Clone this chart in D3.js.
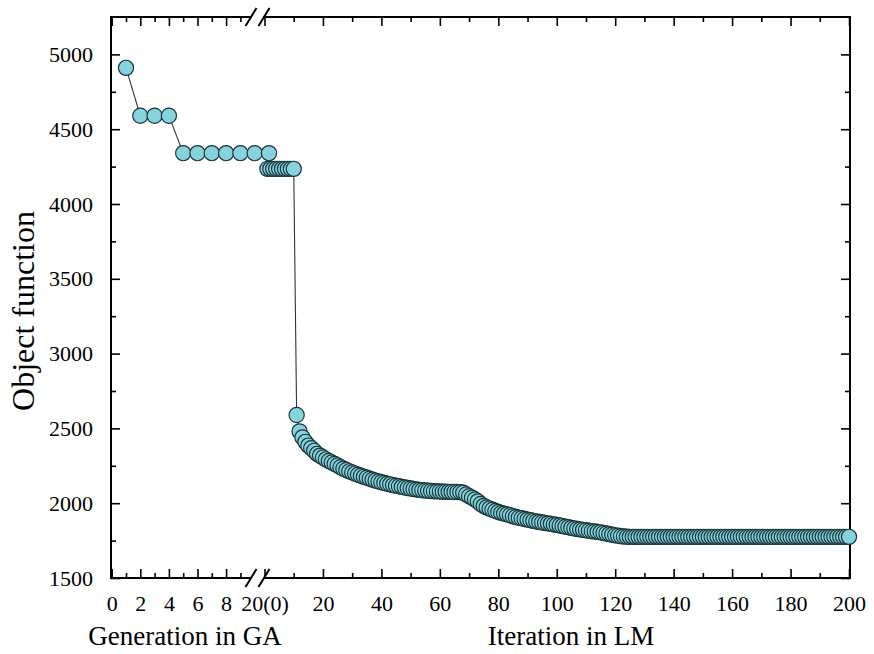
<!DOCTYPE html>
<html>
<head>
<meta charset="utf-8">
<script src="https://cdn.jsdelivr.net/npm/d3@7"></script>
<style>
  html, body { margin: 0; padding: 0; background: #fff; }
  svg { display: block; font-family: "Liberation Serif", "Times New Roman", serif; }
</style>
</head>
<body>
<svg id="chart" width="874" height="654"></svg>
<script>
// GA stage: best objective per generation
const gaGenerations = [1, 2, 3, 4, 5, 6, 7, 8, 9, 10, 11];
const gaValues = [4910, 4590, 4590, 4590, 4340, 4340, 4340, 4340, 4340, 4340, 4340];

// LM stage: objective per iteration (starting from the GA optimum)
const lmIterations = d3.range(1, 201);
const lmValues = [
  4235, 4235, 4235, 4235, 4235, 4235, 4235, 4235, 4235, 4235,
  2590, 2480, 2440, 2410, 2385, 2368, 2350, 2330, 2318, 2305,
  2293, 2282, 2272, 2262, 2252, 2240, 2230, 2222, 2213, 2205,
  2198, 2190, 2183, 2176, 2170, 2163, 2157, 2151, 2145, 2140,
  2135, 2130, 2126, 2121, 2117, 2113, 2109, 2105, 2102, 2098,
  2095, 2092, 2089, 2087, 2085, 2083, 2082, 2080, 2079, 2078,
  2077, 2077, 2076, 2076, 2075, 2075, 2074, 2070, 2058, 2046,
  2036, 2025, 2012, 1995, 1982, 1972, 1964, 1956, 1948, 1941,
  1935, 1930, 1925, 1919, 1913, 1908, 1903, 1899, 1894, 1890,
  1886, 1882, 1878, 1875, 1871, 1868, 1865, 1862, 1858, 1855,
  1851, 1847, 1843, 1839, 1835, 1831, 1828, 1825, 1822, 1819,
  1816, 1813, 1811, 1808, 1805, 1801, 1797, 1793, 1789, 1785,
  1782, 1779, 1777, 1776, 1775, 1775, 1775, 1775, 1775, 1775,
  1775, 1775, 1775, 1775, 1775, 1775, 1775, 1775, 1775, 1775,
  1775, 1775, 1775, 1775, 1775, 1775, 1775, 1775, 1775, 1775,
  1775, 1775, 1775, 1775, 1775, 1775, 1775, 1775, 1775, 1775,
  1775, 1775, 1775, 1775, 1775, 1775, 1775, 1775, 1775, 1775,
  1775, 1775, 1775, 1775, 1775, 1775, 1775, 1775, 1775, 1775,
  1775, 1775, 1775, 1775, 1775, 1775, 1775, 1775, 1775, 1775,
  1775, 1775, 1775, 1775, 1775, 1775, 1775, 1775, 1775, 1775
];

// Tick values
const yTicksMajor = [1500, 2000, 2500, 3000, 3500, 4000, 4500, 5000];
const yTicksMinor = [1750, 2250, 2750, 3250, 3750, 4250, 4750];
const gaTicksMajor = [0, 2, 4, 6, 8];
const gaTicksMinor = [1, 3, 5, 7, 9];
const lmTicksMajor = [0, 20, 40, 60, 80, 100, 120, 140, 160, 180, 200];
const lmTicksMinor = [10, 30, 50, 70, 90, 110, 130, 150, 170, 190];
const lmStartLabel = "20(0)";

const yTitle = "Object function";
const gaTitle = "Generation in GA";
const lmTitle = "Iteration in LM";

// Layout
const plotLeft = 111, plotRight = 850, plotTop = 17, plotBottom = 578;
const breakA = 251, breakB = 264;
const markerFill = "#86d3dd", markerStroke = "#18363a";

const svg = d3.select("#chart");

const y = d3.scaleLinear().domain([1500, 5250]).range([plotBottom, plotTop]);
const xGA = d3.scaleLinear().domain([0, 10]).range([plotLeft + 0.7, 254.7]);
const xLM = d3.scaleLinear().domain([0, 200]).range([264.5, 849]);

const tickFont = 22;
const axisStroke = "#000";

function styleAxis(g, fontSize) {
  g.select(".domain").remove();
  g.selectAll(".tick line").attr("stroke", axisStroke).attr("stroke-width", 1.6);
  g.selectAll(".tick text").attr("fill", "#000").attr("font-size", fontSize)
    .attr("font-family", "Liberation Serif, Times New Roman, serif");
}

// Left axis (labels) and right axis (mirror)
svg.append("g").attr("transform", `translate(${plotLeft},0)`)
  .call(d3.axisLeft(y).tickValues(yTicksMajor).tickSize(-9).tickPadding(18).tickFormat(d3.format("d")))
  .call(g => styleAxis(g, tickFont));
svg.append("g").attr("transform", `translate(${plotLeft},0)`)
  .call(d3.axisLeft(y).tickValues(yTicksMinor).tickSize(-5).tickFormat(""))
  .call(g => styleAxis(g, tickFont));
svg.append("g").attr("transform", `translate(${plotRight},0)`)
  .call(d3.axisRight(y).tickValues(yTicksMajor).tickSize(-9).tickFormat(""))
  .call(g => styleAxis(g, tickFont));
svg.append("g").attr("transform", `translate(${plotRight},0)`)
  .call(d3.axisRight(y).tickValues(yTicksMinor).tickSize(-5).tickFormat(""))
  .call(g => styleAxis(g, tickFont));

// Bottom axes (GA and LM segments) and mirrored top ticks
function xAxes(scale, major, minor, fmt) {
  svg.append("g").attr("transform", `translate(0,${plotBottom})`)
    .call(d3.axisBottom(scale).tickValues(major).tickSize(-9).tickPadding(17).tickFormat(fmt))
    .call(g => styleAxis(g, tickFont));
  svg.append("g").attr("transform", `translate(0,${plotBottom})`)
    .call(d3.axisBottom(scale).tickValues(minor).tickSize(-5).tickFormat(""))
    .call(g => styleAxis(g, tickFont));
  svg.append("g").attr("transform", `translate(0,${plotTop})`)
    .call(d3.axisTop(scale).tickValues(major).tickSize(-9).tickFormat(""))
    .call(g => styleAxis(g, tickFont));
  svg.append("g").attr("transform", `translate(0,${plotTop})`)
    .call(d3.axisTop(scale).tickValues(minor).tickSize(-5).tickFormat(""))
    .call(g => styleAxis(g, tickFont));
}
xAxes(xGA, gaTicksMajor, gaTicksMinor, d3.format("d"));
xAxes(xLM, lmTicksMajor, lmTicksMinor, d => d === 0 ? lmStartLabel : d);

// Frame with a broken horizontal axis
const frame = svg.append("g").attr("stroke", axisStroke).attr("stroke-width", 2).attr("fill", "none");
[[plotLeft, plotTop, plotLeft, plotBottom], [plotRight, plotTop, plotRight, plotBottom],
 [plotLeft, plotTop, breakA, plotTop], [breakB, plotTop, plotRight, plotTop],
 [plotLeft, plotBottom, breakA, plotBottom], [breakB, plotBottom, plotRight, plotBottom]]
  .forEach(([x1, y1, x2, y2]) => frame.append("line")
    .attr("x1", x1).attr("y1", y1).attr("x2", x2).attr("y2", y2)
    .attr("stroke-linecap", "square"));
[plotTop, plotBottom].forEach(yy => {
  [breakA, breakB].forEach(xx => {
    frame.append("line")
      .attr("x1", xx - 5.5).attr("y1", yy + 9)
      .attr("x2", xx + 5.5).attr("y2", yy - 9);
  });
});

// Connecting lines
const gaData = gaGenerations.map((g, i) => [xGA(g), y(gaValues[i])]);
const lmData = lmIterations.map((t, i) => [xLM(t), y(lmValues[i])]);
const line = d3.line();
svg.append("path").attr("d", line(gaData))
  .attr("fill", "none").attr("stroke", "#333").attr("stroke-width", 1.1);
svg.append("path").attr("d", line(lmData))
  .attr("fill", "none").attr("stroke", "#333").attr("stroke-width", 1.1);

// Markers
const marks = svg.append("g");
marks.selectAll("circle.ga").data(gaData).join("circle").attr("class", "ga")
  .attr("cx", d => d[0]).attr("cy", d => d[1]).attr("r", 7.6)
  .attr("fill", markerFill).attr("stroke", markerStroke).attr("stroke-width", 1.2);
marks.selectAll("circle.lm").data(lmData).join("circle").attr("class", "lm")
  .attr("cx", d => d[0]).attr("cy", d => d[1]).attr("r", 7.6)
  .attr("fill", markerFill).attr("stroke", markerStroke).attr("stroke-width", 1.2);

// Axis titles
svg.append("text").attr("x", 185).attr("y", 645).attr("text-anchor", "middle")
  .attr("font-size", 27).text(gaTitle);
svg.append("text").attr("x", 571).attr("y", 645).attr("text-anchor", "middle")
  .attr("font-size", 27).text(lmTitle);
svg.append("text").attr("transform", "translate(34,311) rotate(-90)")
  .attr("text-anchor", "middle").attr("font-size", 32).text(yTitle);
</script>
</body>
</html>
